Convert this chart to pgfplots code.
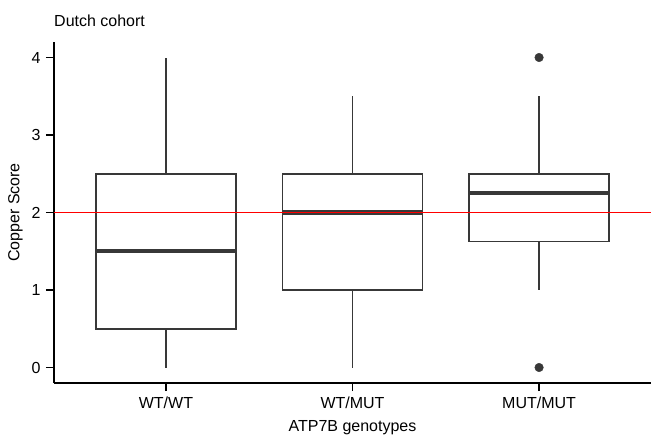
\documentclass[border=0pt]{standalone}
\usepackage{fontspec}
\setmainfont{Liberation Sans}
\usepackage{pgfplots}
\pgfplotsset{compat=1.18}
\usepgfplotslibrary{statistics}
\definecolor{boxgray}{HTML}{383838}
\begin{document}
\fontsize{16bp}{19bp}\selectfont
\begin{tikzpicture}
\path[use as bounding box] (-54bp,-53bp) rectangle (597bp,383bp);
\begin{axis}[
  at={(0,0)}, anchor=south west,
  scale only axis, width=597bp, height=341bp,
  xmin=0.4, xmax=3.6, ymin=-0.2, ymax=4.2,
  axis lines=left,
  axis line style={-, line width=2bp, black},
  xtick={1,2,3}, xticklabels={WT/WT,WT/MUT,MUT/MUT},
  ytick={0,1,2,3,4},
  tick align=outside, major tick length=8bp,
  tick style={line width=1.6bp, black},
  /pgf/number format/assume math mode=true,
  ticklabel style={font=\fontsize{16bp}{19bp}\selectfont},
  label style={font=\fontsize{16bp}{19bp}\selectfont},
  xlabel={ATP7B genotypes}, ylabel={Copper Score},
  xlabel style={yshift=-1bp},
  ylabel shift=-2bp,
  boxplot/draw direction=y,
  boxplot/every median/.style={line width=4.2bp},
  clip=false,
]
\addplot[boxplot prepared={lower whisker=0, lower quartile=0.5, median=1.5,
  upper quartile=2.5, upper whisker=4, draw position=1,
  box extend=0.75, whisker extend=0}, draw=boxgray, line width=1.8bp, solid, mark=none]
  coordinates {};
\addplot[boxplot prepared={lower whisker=0, lower quartile=1, median=2,
  upper quartile=2.5, upper whisker=3.5, draw position=2,
  box extend=0.75, whisker extend=0}, draw=boxgray, line width=1.8bp, solid, mark=none]
  coordinates {};
\addplot[boxplot prepared={lower whisker=1, lower quartile=1.625, median=2.25,
  upper quartile=2.5, upper whisker=3.5, draw position=3,
  box extend=0.75, whisker extend=0}, draw=boxgray, line width=1.8bp, solid, mark=none]
  coordinates {};
\addplot[only marks, mark=*, mark size=4.3bp, draw=boxgray, fill=boxgray]
  coordinates {(3,4) (3,0)};
\addplot[red, line width=1.6bp, no marks] coordinates {(0.4,2) (3.6,2)};
\node[anchor=west, inner sep=0pt] at ([yshift=21bp]rel axis cs:0,1) {Dutch cohort};
\end{axis}
\end{tikzpicture}
\end{document}
